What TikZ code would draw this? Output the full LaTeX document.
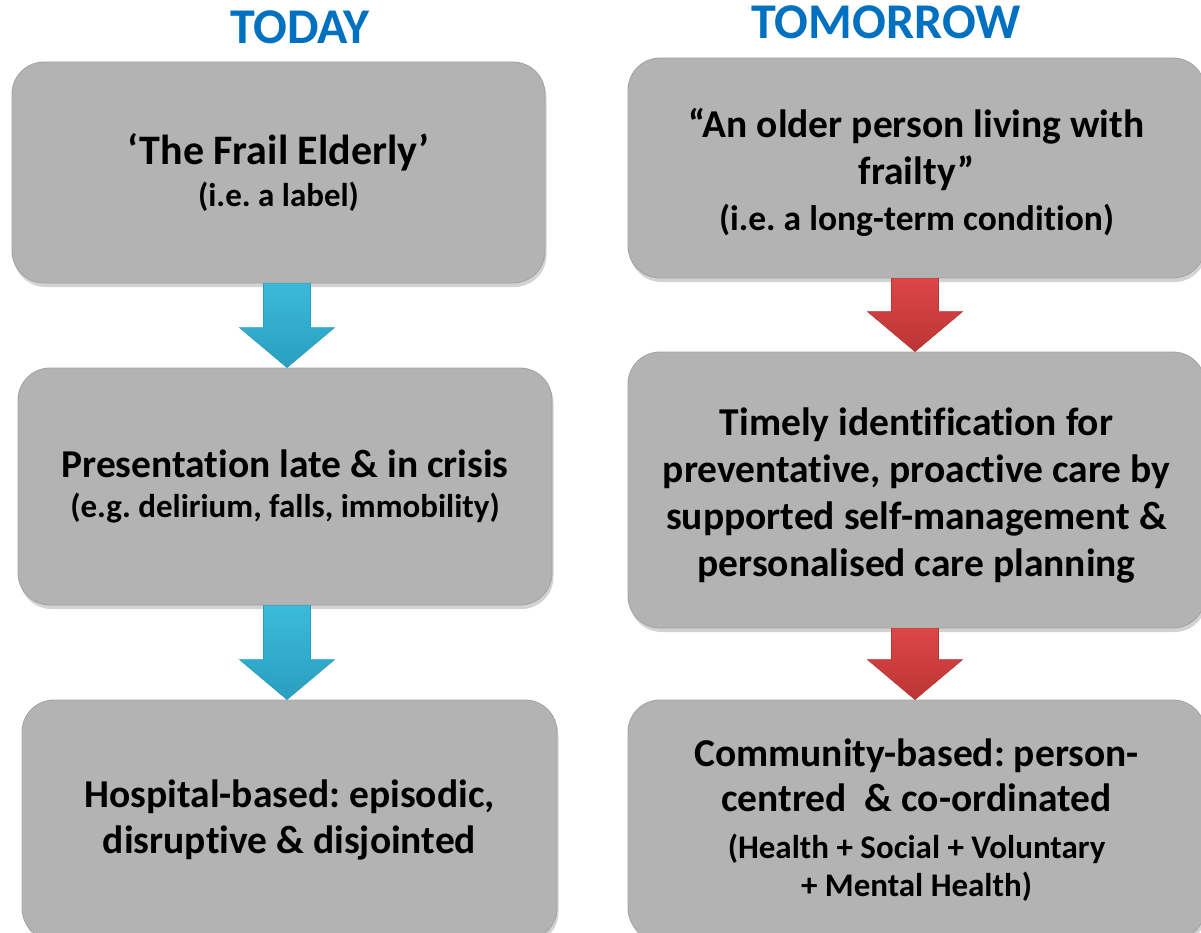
\documentclass[tikz,border=0pt]{standalone}
\usepackage{fontspec}
\setmainfont{Carlito}[RawFeature=-liga]
\usetikzlibrary{calc,shadows}
\frenchspacing
\definecolor{titleblue}{HTML}{0070C0}
\definecolor{boxgray}{HTML}{B3B3B3}
\definecolor{boxedge}{HTML}{A2A2A2}
\definecolor{arrblue}{HTML}{3BBADC}
\definecolor{arrbluedark}{HTML}{2A9EBF}
\definecolor{arrred}{HTML}{DC4746}
\definecolor{arrreddark}{HTML}{BB3534}
\newcommand{\bigf}{\fontsize{39.5}{47}\selectfont\bfseries\frenchspacing}
\newcommand{\smallf}{\fontsize{33}{47}\selectfont\bfseries\frenchspacing}
\tikzset{
  titletext/.style={font=\fontsize{50}{54}\selectfont\bfseries, text=titleblue},
  graybox/.style={rectangle, rounded corners=32pt, fill=boxgray, draw=boxedge, line width=0.8pt,
    drop shadow={shadow xshift=1.5pt, shadow yshift=-4pt, opacity=0.35},
    align=center, inner sep=0pt, text=black, font=\bigf},
  bluearrow/.style={top color=arrblue, bottom color=arrbluedark, draw=arrbluedark, line width=0.6pt},
  redarrow/.style={top color=arrred, bottom color=arrreddark, draw=arrreddark, line width=0.6pt},
}
% #1 style, #2 from node, #3 to node, #4 x centre (pt)
\newcommand{\blockarrow}[4]{%
  \path[#1] let \p1=(#2.south), \p2=(#3.north) in
    ({#4pt-23.5pt},\y1) -- ({#4pt+23.5pt},\y1) -- ({#4pt+23.5pt},{\y2+40pt})
    -- ({#4pt+47.5pt},{\y2+40pt}) -- ({#4pt},\y2) -- ({#4pt-47.5pt},{\y2+40pt})
    -- ({#4pt-23.5pt},{\y2+40pt}) -- cycle;}
\begin{document}
\begin{tikzpicture}[x=1pt,y=-1pt]
\useasboundingbox (0,0) rectangle (1201,933);
\clip (0,0) rectangle (1201,933);

\node[titletext] (today) at (300,27) {TODAY};
\node[titletext] (tomorrow) at (886,22) {TOMORROW};

% left column
\node[graybox, minimum width=533pt, minimum height=221pt] (L1) at (278.5,172.5)
  {{\fontsize{42}{47}\selectfont\bfseries ‘The Frail Elderly’}\\[-5pt]{\smallf (i.e. a label)}};
\node[graybox, minimum width=534pt, minimum height=237pt] (L2) at (285,486.5)
  {Presentation late \& in crisis\\[-7pt]{\smallf (e.g. delirium, falls, immobility)}};
\node[graybox, minimum width=535pt, minimum height=240pt] (L3) at (289.5,820)
  {Hospital-based: episodic,\\[-1pt] disruptive \& disjointed};

% right column
\node[graybox, minimum width=577pt, minimum height=220pt] (R1) at (916.5,168)
  {\\[-8pt]“An older person living with\\ frailty\char34\\[-1pt]{\fontsize{35.5}{47}\selectfont\bfseries (i.e. a long-term condition)}};
\node[graybox, minimum width=577pt, minimum height=276pt] (R2) at (916.5,490)
  {\\[-9pt]Timely identification for\\ preventative, proactive care by\\ supported self-management \&\\ personalised care planning};
\node[graybox, minimum width=577pt, minimum height=240pt] (R3) at (916.5,820)
  {Community-based: person-\\[-2pt] centred\ \ \& co-ordinated\\[0pt]
   {\smallf (Health + Social + Voluntary}\\[-9pt]{\smallf + Mental Health)}};

% arrows
\blockarrow{bluearrow}{L1}{L2}{287}
\blockarrow{bluearrow}{L2}{L3}{287}
\blockarrow{redarrow}{R1}{R2}{915}
\blockarrow{redarrow}{R2}{R3}{915}
\end{tikzpicture}
\end{document}
